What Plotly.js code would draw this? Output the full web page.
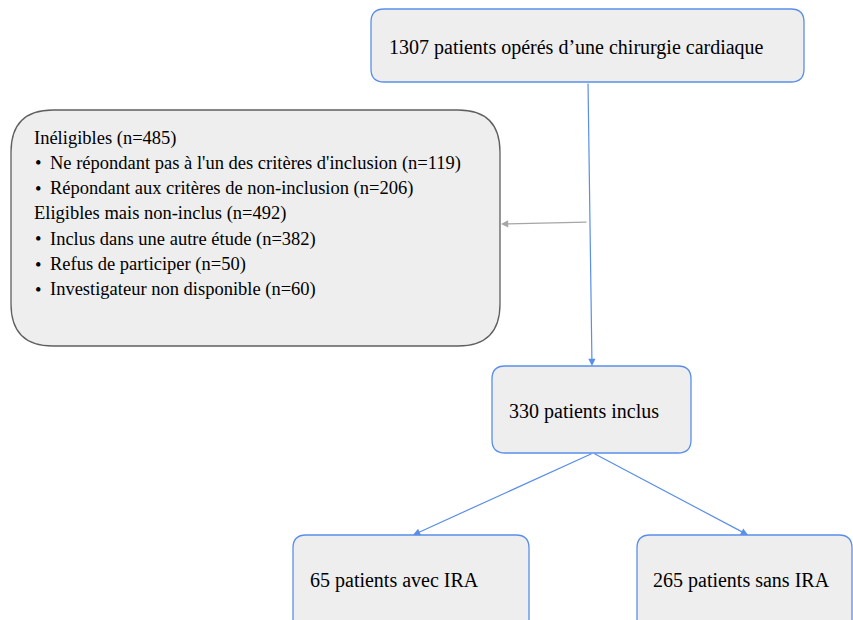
<!DOCTYPE html>
<html>
<head>
<meta charset="utf-8">
<script src="https://cdn.plot.ly/plotly-3.0.1.min.js"></script>
<style>html,body{margin:0;padding:0;background:#fff;}#chart{width:853px;height:620px;}</style>
</head>
<body>
<div id="chart"></div>
<script>
// ---- content (flow-chart labels and counts) ----
const nodeLabels = ['1307 patients opérés d’une chirurgie cardiaque', '330 patients inclus', '65 patients avec IRA', '265 patients sans IRA'];
const exclusionLines = [
  'Inéligibles (n=485)',
  'Ne répondant pas à l\'un des critères d\'inclusion (n=119)',
  'Répondant aux critères de non-inclusion (n=206)',
  'Eligibles mais non-inclus (n=492)',
  'Inclus dans une autre étude (n=382)',
  'Refus de participer (n=50)',
  'Investigateur non disponible (n=60)'
];
const exclusionBullet = [false, true, true, false, true, true, true];

// ---- layout geometry ----
const boxes = [
  {x0: 371, y0: 9, x1: 804, y1: 82, r: 13, tx: 387, ty: 47},
  {x0: 492, y0: 366, x1: 691, y1: 453, r: 13, tx: 507, ty: 411},
  {x0: 293, y0: 535, x1: 529, y1: 650, r: 13, tx: 308, ty: 580},
  {x0: 637, y0: 535, x1: 852, y1: 650, r: 13, tx: 651, ty: 580}
];
const exBox = {x0: 11, y0: 110, x1: 500, y1: 346, r: 42};
const exLineY0 = 138, exLineStep = 25.3;

const BLUE = '#5a8ee9';
const FONT = 'Liberation Serif, Times New Roman, serif';

function rr(b) {
  const {x0, y0, x1, y1, r} = b;
  return `M ${x0 + r},${y0} L ${x1 - r},${y0} Q ${x1},${y0} ${x1},${y0 + r} L ${x1},${y1 - r} Q ${x1},${y1} ${x1 - r},${y1} L ${x0 + r},${y1} Q ${x0},${y1} ${x0},${y1 - r} L ${x0},${y0 + r} Q ${x0},${y0} ${x0 + r},${y0} Z`;
}

const shapes = [];
boxes.forEach(b => shapes.push({type: 'path', xref: 'x', yref: 'y', path: rr(b), fillcolor: '#eeeeee', line: {color: BLUE, width: 1.3}, layer: 'below'}));
shapes.push({type: 'path', xref: 'x', yref: 'y', path: rr(exBox), fillcolor: '#eeeeee', line: {color: '#5f5f5f', width: 1.3}, layer: 'below'});

const annotations = [];
nodeLabels.forEach((t, i) => annotations.push({
  x: boxes[i].tx, y: boxes[i].ty, xref: 'x', yref: 'y', text: t, showarrow: false,
  xanchor: 'left', yanchor: 'middle', font: {family: FONT, size: 20, color: '#000'}
}));
exclusionLines.forEach((t, i) => {
  const y = exLineY0 + i * exLineStep;
  if (exclusionBullet[i]) {
    annotations.push({x: 33, y: y, xref: 'x', yref: 'y', text: '•', showarrow: false, xanchor: 'left', yanchor: 'middle', font: {family: FONT, size: 18.5, color: '#000'}});
  }
  annotations.push({x: exclusionBullet[i] ? 48 : 32, y: y, xref: 'x', yref: 'y', text: t, showarrow: false,
    xanchor: 'left', yanchor: 'middle', font: {family: FONT, size: 18.5, color: '#000'}});
});

// arrows: [headX, headY, tailX, tailY, color]
const arrows = [
  [592, 366, 588, 82, BLUE],
  [501, 224, 588, 222, '#a6a6a6'],
  [413, 535, 593, 453, BLUE],
  [748, 535, 593, 453, BLUE]
];
arrows.forEach(a => annotations.push({
  x: a[0], y: a[1], ax: a[2], ay: a[3], xref: 'x', yref: 'y', axref: 'x', ayref: 'y',
  text: '', showarrow: true, arrowhead: 2, arrowsize: 1.2, arrowwidth: 1.2, arrowcolor: a[4], standoff: 0
}));

Plotly.newPlot('chart', [{x: [0], y: [0], mode: 'markers', marker: {opacity: 0}, hoverinfo: 'skip', showlegend: false}], {
  width: 853, height: 620,
  margin: {l: 0, r: 0, t: 0, b: 0},
  paper_bgcolor: '#ffffff', plot_bgcolor: '#ffffff',
  xaxis: {range: [0, 853], visible: false, fixedrange: true},
  yaxis: {range: [620, 0], visible: false, fixedrange: true},
  shapes: shapes,
  annotations: annotations,
  showlegend: false
}, {displayModeBar: false, staticPlot: true});
</script>
</body>
</html>
